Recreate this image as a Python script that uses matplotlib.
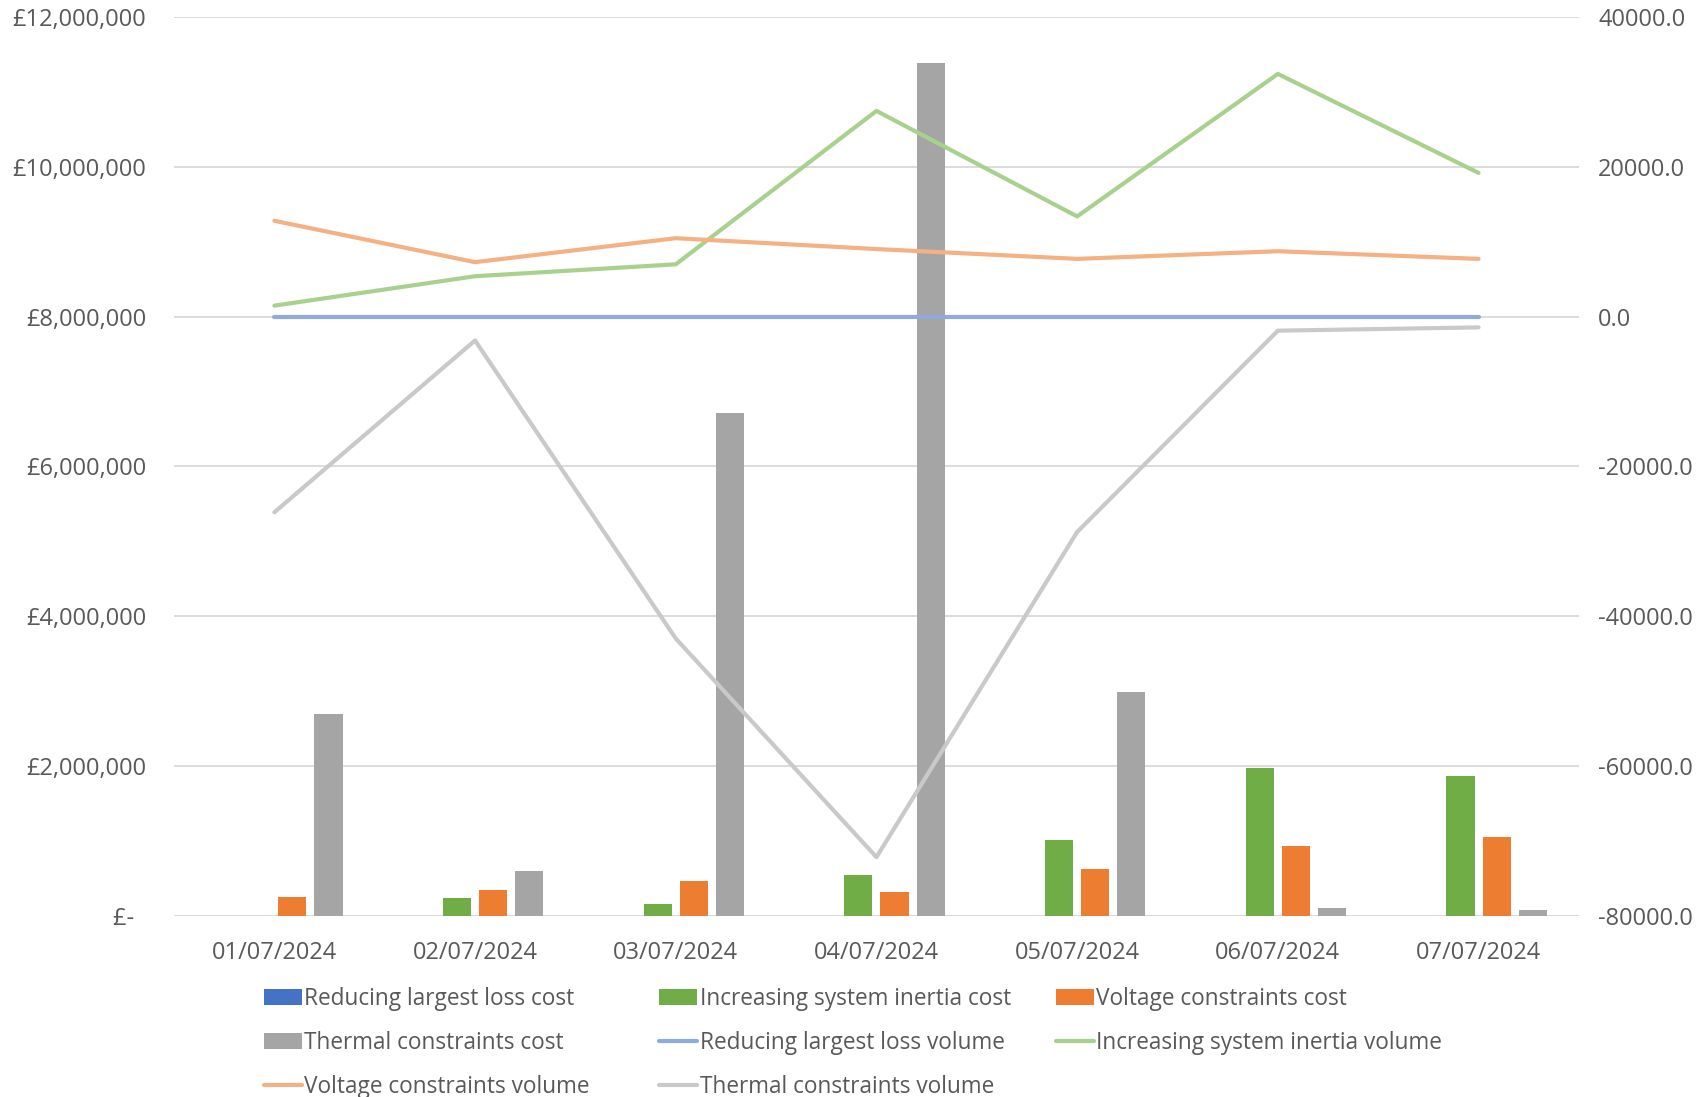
import numpy as np
import matplotlib.pyplot as plt
from matplotlib.ticker import FuncFormatter, FormatStrFormatter

plt.rcParams['font.family'] = ['Open Sans', 'DejaVu Sans']

dates = ['01/07/2024', '02/07/2024', '03/07/2024', '04/07/2024',
         '05/07/2024', '06/07/2024', '07/07/2024']

# daily costs (£)
largest_loss_cost = [0, 0, 0, 0, 0, 0, 0]
inertia_cost = [0, 237000, 152000, 536000, 1013000, 1964000, 1866000]
voltage_cost = [250000, 335000, 455000, 308000, 625000, 924000, 1045000]
thermal_cost = [2690000, 589000, 6710000, 11380000, 2980000, 103000, 80000]

# daily volumes
largest_loss_vol = [0, 0, 0, 0, 0, 0, 0]
inertia_vol = [1450, 5380, 6970, 27460, 13370, 32400, 19180]
voltage_vol = [12790, 7260, 10460, 9010, 7700, 8720, 7700]
thermal_vol = [-26150, -3200, -43000, -72200, -28770, -1890, -1450]

bar_series = [
    ('Reducing largest loss cost', largest_loss_cost, '#4472C4'),
    ('Increasing system inertia cost', inertia_cost, '#70AD47'),
    ('Voltage constraints cost', voltage_cost, '#ED7D31'),
    ('Thermal constraints cost', thermal_cost, '#A5A5A5'),
]
line_series = [
    ('Reducing largest loss volume', largest_loss_vol, '#8FAADC'),
    ('Increasing system inertia volume', inertia_vol, '#A9D18E'),
    ('Voltage constraints volume', voltage_vol, '#F4B183'),
    ('Thermal constraints volume', thermal_vol, '#C9C9C9'),
]

text_col = '#595959'
grid_col = '#D9D9D9'

fig = plt.figure(figsize=(17.04, 10.97), dpi=100)
ax = fig.add_axes([0.1021, 0.1654, 0.8245, 0.8191])
ax2 = ax.twinx()

x = np.arange(len(dates))
slot = 0.18
width = 0.14
handles = []
for i, (name, vals, col) in enumerate(bar_series):
    h = ax.bar(x + (i - 1.5) * slot, vals, width, color=col, label=name, zorder=2)
    handles.append(h)

for name, vals, col in line_series:
    h, = ax2.plot(x, vals, color=col, lw=3, label=name, solid_capstyle='round')
    handles.append(h)

ax.set_xlim(-0.5, 6.5)
ax.set_ylim(0, 12000000)
ax.set_yticks(np.arange(0, 12000001, 2000000))
ax.yaxis.set_major_formatter(FuncFormatter(
    lambda v, p: '£-  ' if v == 0 else '£{:,.0f}'.format(v)))
ax2.set_ylim(-80000, 40000)
ax2.set_yticks(np.arange(-80000, 40001, 20000))
ax2.yaxis.set_major_formatter(FormatStrFormatter('%.1f'))

ax.set_xticks(x)
ax.set_xticklabels(dates)
ax.grid(axis='y', color=grid_col, lw=1.3, zorder=0)
ax.set_axisbelow(True)

for a in (ax, ax2):
    for s in ('top', 'left', 'right', 'bottom'):
        a.spines[s].set_visible(False)
    a.tick_params(length=0, labelsize=17, labelcolor=text_col)
ax.tick_params(axis='y', pad=20)
ax.tick_params(axis='x', pad=18)
ax2.tick_params(axis='y', pad=14)
ax.axhline(0, color=grid_col, lw=1.3, zorder=1)

# legend laid out row by row in three equal-width columns
col_x = [0.148, 0.3801, 0.6129]
for j, cx in enumerate(col_x):
    hs = handles[j::3]
    fig.legend(hs, [h.get_label() for h in hs],
               loc='upper left', bbox_to_anchor=(cx, 0.111),
               frameon=False, fontsize=16.3, labelcolor=text_col,
               handlelength=1.7, handletextpad=0.1,
               labelspacing=0.9, borderpad=0)

fig.savefig('out.png', dpi=100)
